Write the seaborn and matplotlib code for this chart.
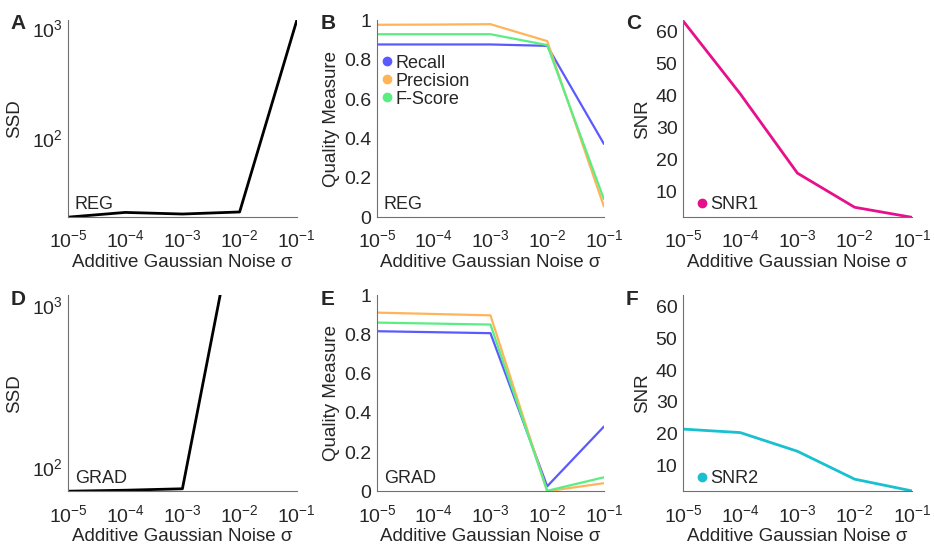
import seaborn as sns
import matplotlib.pyplot as plt
import pandas as pd
from matplotlib.lines import Line2D
from matplotlib.ticker import LogLocator, FixedLocator, FuncFormatter, NullFormatter

# Datos
noise = [1e-5, 1e-4, 1e-3, 1e-2, 1e-1]
ssd_reg = [19.2, 21.2, 20.5, 21.4, 1180]
ssd_grad = [71, 72, 73.5, 4800, 30000]
reg_recall = [0.877, 0.877, 0.877, 0.870, 0.372]
reg_precision = [0.977, 0.978, 0.980, 0.894, 0.054]
reg_fscore = [0.929, 0.929, 0.929, 0.874, 0.091]
grad_recall = [0.817, 0.812, 0.807, 0.025, 0.330]
grad_precision = [0.912, 0.905, 0.898, 0.0, 0.041]
grad_fscore = [0.861, 0.856, 0.851, 0.002, 0.071]
snr1 = [63.4, 40.5, 15.6, 4.9, 1.75]
snr2 = [21.4, 20.3, 14.4, 5.6, 1.9]

measures = ['Recall', 'Precision', 'F-Score']
measure_colors = ['#5a5aff', '#ffb45a', '#5aee82']
snr_colors = ['#e8108a', '#18c0d0']

sns.set_style('white')
plt.rcParams['font.family'] = ['Liberation Sans', 'DejaVu Sans']
plt.rcParams['mathtext.fontset'] = 'custom'
plt.rcParams['mathtext.rm'] = 'Liberation Sans'
plt.rcParams['font.size'] = 12
spine_col = '#707070'
fs_tick = 14
fs_lab = 13.5
fs_txt = 13

fig = plt.figure(figsize=(9.34, 5.47), dpi=100)
lefts = [0.0728, 0.4036, 0.7313]
widths = [0.245, 0.243, 0.245]
rows = [(0.603, 0.360), (0.102, 0.358)]
axes = [[fig.add_axes([lefts[c], rows[r][0], widths[c], rows[r][1]]) for c in range(3)] for r in range(2)]


def style(ax):
    sns.despine(ax=ax)
    for s in ['left', 'bottom']:
        ax.spines[s].set_color(spine_col)
        ax.spines[s].set_linewidth(0.8)
    ax.set_xscale('log')
    ax.set_xlim(1e-5, 1e-1)
    ax.xaxis.set_major_locator(LogLocator(base=10, numticks=10))
    ax.xaxis.set_minor_locator(LogLocator(base=10, subs=range(2, 10), numticks=20))
    ax.xaxis.set_minor_formatter(NullFormatter())
    ax.tick_params(which='both', direction='in', color=spine_col, labelsize=fs_tick)
    ax.tick_params(axis='x', which='major', pad=9)
    ax.tick_params(axis='y', which='major', pad=4)
    ax.tick_params(which='major', length=3)
    ax.tick_params(which='minor', length=1.8)
    ax.set_xlabel('Additive Gaussian Noise σ', fontsize=fs_lab, labelpad=2)
    ax.grid(False)


letters = [['A', 'B', 'C'], ['D', 'E', 'F']]
methods = ['REG', 'GRAD']
ssd = [ssd_reg, ssd_grad]
ssd_lims = [(19.2, 1180), (71, 1153)]
qual = [
    [reg_recall, reg_precision, reg_fscore],
    [grad_recall, grad_precision, grad_fscore],
]
snr = [snr1, snr2]

for r in range(2):
    # SSD
    ax = axes[r][0]
    df = pd.DataFrame({'noise': noise, 'ssd': ssd[r]})
    sns.lineplot(data=df, x='noise', y='ssd', color='black', linewidth=2, ax=ax)
    style(ax)
    ax.set_yscale('log')
    ax.set_ylim(*ssd_lims[r])
    ax.yaxis.set_major_locator(LogLocator(base=10, numticks=10))
    ax.yaxis.set_minor_locator(LogLocator(base=10, subs=range(2, 10), numticks=20))
    ax.yaxis.set_minor_formatter(NullFormatter())
    ax.set_ylabel('SSD', fontsize=fs_lab, labelpad=6)
    ax.text(0.03, 0.04, methods[r], transform=ax.transAxes, fontsize=fs_txt)

    # Quality measures
    ax = axes[r][1]
    dq = pd.DataFrame({
        'noise': noise * 3,
        'value': qual[r][0] + qual[r][1] + qual[r][2],
        'measure': [m for m in measures for _ in noise],
    })
    sns.lineplot(data=dq, x='noise', y='value', hue='measure', hue_order=measures,
                 palette=measure_colors, linewidth=1.6, ax=ax, legend=False)
    style(ax)
    ax.set_ylim(0, 1)
    ax.yaxis.set_major_locator(FixedLocator([0, 0.2, 0.4, 0.6, 0.8, 1]))
    ax.yaxis.set_major_formatter(FuncFormatter(lambda v, p: f'{v:g}'))
    ax.set_ylabel('Quality Measure', fontsize=fs_lab, labelpad=3)
    ax.text(0.03, 0.04, methods[r], transform=ax.transAxes, fontsize=fs_txt)
    if r == 0:
        handles = [Line2D([], [], marker='o', linestyle='', color=c, markersize=6) for c in measure_colors]
        ax.legend(handles, measures, loc='upper left', bbox_to_anchor=(0.02, 0.825), frameon=False,
                  handlelength=0.6, handletextpad=0.15, labelspacing=0.05, borderaxespad=0,
                  borderpad=0, fontsize=fs_txt)

    # SNR
    ax = axes[r][2]
    ds = pd.DataFrame({'noise': noise, 'snr': snr[r]})
    sns.lineplot(data=ds, x='noise', y='snr', color=snr_colors[r], linewidth=2, ax=ax)
    style(ax)
    ax.set_ylim(1.8, 63.6)
    ax.yaxis.set_major_locator(FixedLocator([10, 20, 30, 40, 50, 60]))
    ax.yaxis.set_major_formatter(FuncFormatter(lambda v, p: f'{v:g}'))
    ax.set_ylabel('SNR', fontsize=fs_lab, labelpad=3)
    h = [Line2D([], [], marker='o', linestyle='', color=snr_colors[r], markersize=6)]
    ax.legend(h, ['SNR%d' % (r + 1)], loc='lower left', bbox_to_anchor=(0.06, 0.02), frameon=False,
              handlelength=0.6, handletextpad=0.15, borderaxespad=0, borderpad=0, fontsize=fs_txt)

    for c in range(3):
        axes[r][c].text(-0.25, 1.03, letters[r][c], transform=axes[r][c].transAxes,
                        fontsize=15, fontweight='bold', va='top', ha='left')

fig.savefig('out.png', dpi=100)
